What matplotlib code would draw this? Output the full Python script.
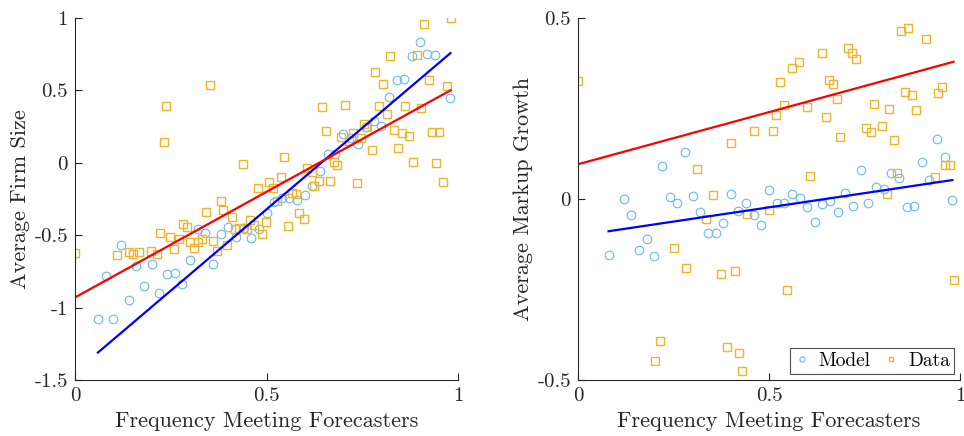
import matplotlib
matplotlib.use("Agg")
import matplotlib.pyplot as plt
import numpy as np

plt.rcParams['font.family'] = ['cmr10', 'DejaVu Serif']
plt.rcParams['mathtext.fontset'] = 'cm'
plt.rcParams['axes.unicode_minus'] = False

# ---------------- data: left panel (Average Firm Size) ----------------
size_model_x = [0.06, 0.08, 0.10, 0.12, 0.14, 0.16, 0.18, 0.20, 0.22, 0.24, 0.26, 0.28,
                0.30, 0.32, 0.34, 0.36, 0.38, 0.40, 0.42, 0.44, 0.46, 0.48, 0.50, 0.52,
                0.54, 0.56, 0.58, 0.60, 0.62, 0.64, 0.66, 0.68, 0.70, 0.72, 0.74, 0.76,
                0.78, 0.80, 0.82, 0.84, 0.86, 0.88, 0.90, 0.92, 0.94, 0.98]
size_model_y = [-1.077, -0.78, -1.077, -0.568, -0.95, -0.716, -0.85, -0.70, -0.90, -0.77,
                -0.76, -0.84, -0.67, -0.46, -0.485, -0.70, -0.49, -0.44, -0.51, -0.45,
                -0.52, -0.46, -0.35, -0.27, -0.245, -0.245, -0.26, -0.22, -0.16, -0.06,
                0.064, 0.06, 0.196, 0.17, 0.133, 0.247, 0.289, 0.254, 0.453, 0.571,
                0.58, 0.735, 0.834, 0.753, 0.744, 0.447]

size_data_x = [0.00, 0.11, 0.142, 0.151, 0.166, 0.199, 0.213, 0.221, 0.232, 0.237, 0.249,
               0.258, 0.272, 0.281, 0.293, 0.30, 0.311, 0.322, 0.332, 0.343, 0.352, 0.361,
               0.372, 0.38, 0.387, 0.398, 0.41, 0.419, 0.427, 0.439, 0.439, 0.448, 0.458,
               0.468, 0.477, 0.487, 0.499, 0.506, 0.518, 0.528, 0.537, 0.546, 0.557, 0.567,
               0.577, 0.586, 0.599, 0.607, 0.618, 0.625, 0.636, 0.646, 0.656, 0.665, 0.675,
               0.685, 0.695, 0.705, 0.716, 0.725, 0.735, 0.748, 0.755, 0.763, 0.775, 0.784,
               0.795, 0.805, 0.814, 0.823, 0.834, 0.843, 0.854, 0.862, 0.873, 0.883, 0.893,
               0.903, 0.910, 0.923, 0.933, 0.942, 0.951, 0.96, 0.972, 0.981]
size_data_y = [-0.62, -0.635, -0.617, -0.628, -0.617, -0.612, -0.633, -0.486, 0.147, 0.39,
               -0.513, -0.594, -0.527, -0.421, -0.444, -0.546, -0.587, -0.548, -0.523,
               -0.338, 0.537, -0.541, -0.606, -0.262, -0.327, -0.569, -0.375, -0.458,
               -0.451, -0.451, -0.01, -0.458, -0.398, -0.428, -0.175, -0.49, -0.41, -0.13,
               -0.175, -0.267, -0.097, 0.039, -0.437, -0.209, -0.216, -0.348, -0.389,
               -0.035, -0.062, -0.163, -0.124, 0.387, 0.223, -0.129, 0.005, -0.012, 0.18,
               0.396, 0.152, 0.205, -0.138, 0.168, 0.27, 0.244, 0.088, 0.626, 0.389, 0.546,
               0.34, 0.737, 0.228, 0.10, 0.205, 0.389, 0.182, 0.005, 0.746, 0.375, 0.96,
               0.571, 0.216, 0.002, 0.212, -0.131, 0.53, 1.0]

# linear fits (intercept, slope)
size_model_fit = [-1.445, 2.247]
size_data_fit = [-0.93, 1.459]

# ---------------- data: right panel (Average Markup Growth) ----------------
markup_model_x = [0.08, 0.12, 0.14, 0.16, 0.18, 0.20, 0.22, 0.24, 0.26, 0.28, 0.30, 0.32,
                  0.34, 0.36, 0.38, 0.40, 0.42, 0.44, 0.46, 0.48, 0.50, 0.52, 0.54, 0.56,
                  0.58, 0.60, 0.62, 0.64, 0.66, 0.68, 0.70, 0.72, 0.74, 0.76, 0.78, 0.80,
                  0.82, 0.84, 0.86, 0.88, 0.90, 0.92, 0.94, 0.96, 0.98]
markup_model_y = [-0.154, 0.0, -0.043, -0.142, -0.11, -0.157, 0.09, 0.006, -0.01, 0.131,
                  0.008, -0.036, -0.095, -0.095, -0.065, 0.013, -0.033, -0.01, -0.043,
                  -0.071, 0.026, -0.01, -0.012, 0.015, 0.004, -0.021, -0.064, -0.013,
                  -0.005, -0.036, 0.017, -0.018, 0.079, -0.012, 0.034, 0.028, 0.071, 0.058,
                  -0.023, -0.018, 0.101, 0.052, 0.165, 0.117, -0.003]

markup_data_x = [0.0, 0.201, 0.214, 0.251, 0.283, 0.312, 0.334, 0.354, 0.375, 0.389, 0.40,
                 0.412, 0.421, 0.429, 0.443, 0.46, 0.499, 0.51, 0.519, 0.529, 0.539, 0.548,
                 0.559, 0.579, 0.60, 0.608, 0.638, 0.648, 0.657, 0.667, 0.677, 0.687, 0.706,
                 0.716, 0.727, 0.755, 0.767, 0.776, 0.797, 0.808, 0.815, 0.826, 0.835, 0.845,
                 0.855, 0.865, 0.874, 0.884, 0.912, 0.935, 0.943, 0.953, 0.962, 0.974, 0.983]
markup_data_y = [0.325, -0.448, -0.392, -0.134, -0.19, 0.084, -0.054, 0.010, -0.208, -0.408,
                 0.154, -0.198, -0.425, -0.475, -0.041, 0.187, -0.03, 0.187, 0.232, 0.324,
                 0.26, -0.251, 0.361, 0.378, 0.254, 0.064, 0.404, 0.227, 0.329, 0.317, 0.275,
                 0.17, 0.416, 0.404, 0.387, 0.197, 0.185, 0.262, 0.202, 0.015, 0.249, 0.162,
                 0.072, 0.465, 0.295, 0.472, 0.288, 0.246, 0.441, 0.06, 0.292, 0.309, 0.093,
                 0.093, -0.224]

markup_model_fit = [-0.1016, 0.157]
markup_data_fit = [0.096, 0.288]

x_ticks = [0, 0.5, 1]
x_ticklabels = ['0', '0.5', '1']
size_yticks = [-1.5, -1, -0.5, 0, 0.5, 1]
size_yticklabels = ['-1.5', '-1', '-0.5', '0', '0.5', '1']
markup_yticks = [-0.5, 0, 0.5]
markup_yticklabels = ['-0.5', '0', '0.5']

xlabel = 'Frequency Meeting Forecasters'
size_ylabel = 'Average Firm Size'
markup_ylabel = 'Average Markup Growth'
legend_labels = ['Model', 'Data']

# ---------------- styling ----------------
C_MODEL = '#6cb8ea'
C_DATA = '#efb52a'
AX_COLOR = '#262626'

fig = plt.figure(figsize=(9.64, 4.36), dpi=100)
ax1 = fig.add_axes([75 / 964, 56 / 436, 383 / 964, 362 / 436])
ax2 = fig.add_axes([578 / 964, 56 / 436, 382 / 964, 362 / 436])


def panel(ax, mx, my, dx, dy, mfit, dfit, yticks, yticklabels, ylim, ylabel):
    h1, = ax.plot(mx, my, linestyle='none', marker='o', markersize=6.2,
                  markerfacecolor='none', markeredgecolor=C_MODEL, markeredgewidth=0.8)
    h2, = ax.plot(dx, dy, linestyle='none', marker='s', markersize=5.6,
                  markerfacecolor='none', markeredgecolor=C_DATA, markeredgewidth=1.0)
    xm = np.array([min(mx), max(mx)])
    ax.plot(xm, mfit[0] + mfit[1] * xm, color='#0000ff', linewidth=1.6)
    xd = np.array([min(dx), max(dx)])
    ax.plot(xd, dfit[0] + dfit[1] * xd, color='#ff0000', linewidth=1.6)
    ax.set_xlim(0, 1)
    ax.set_ylim(*ylim)
    ax.set_xticks(x_ticks)
    ax.set_xticklabels(x_ticklabels)
    ax.set_yticks(yticks)
    ax.set_yticklabels(yticklabels)
    for s in ['top', 'right']:
        ax.spines[s].set_visible(False)
    for s in ['left', 'bottom']:
        ax.spines[s].set_color(AX_COLOR)
        ax.spines[s].set_linewidth(0.8)
    ax.tick_params(direction='in', length=5, width=0.8, color=AX_COLOR,
                   labelsize=15, labelcolor='#262626', pad=5)
    ax.set_xlabel(xlabel, fontsize=16, color='#262626', labelpad=5)
    ax.set_ylabel(ylabel, fontsize=16, color='#262626', labelpad=3)
    return h1, h2


panel(ax1, size_model_x, size_model_y, size_data_x, size_data_y,
      size_model_fit, size_data_fit, size_yticks, size_yticklabels, (-1.5, 1), size_ylabel)
h1, h2 = panel(ax2, markup_model_x, markup_model_y, markup_data_x, markup_data_y,
               markup_model_fit, markup_data_fit, markup_yticks, markup_yticklabels,
               (-0.5, 0.5), markup_ylabel)

leg = ax2.legend([h1, h2], legend_labels, loc='lower right', ncol=2, fontsize=14,
                 frameon=True, fancybox=False, markerscale=0.6, handlelength=0.8,
                 handletextpad=0.45, columnspacing=0.7, borderpad=0.2,
                 borderaxespad=0.0, bbox_to_anchor=(0.984, 0.017))
leg.get_frame().set_edgecolor('#262626')
leg.get_frame().set_linewidth(0.8)

fig.savefig('out.png', dpi=100)
